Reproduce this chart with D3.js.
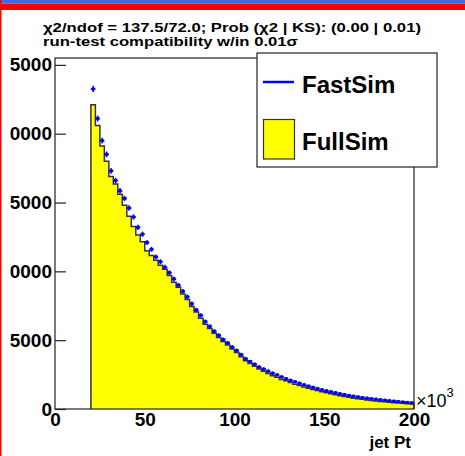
<!DOCTYPE html>
<html>
<head>
<meta charset="utf-8">
<script src="https://cdn.jsdelivr.net/npm/d3@7"></script>
<style>
  body { margin: 0; background: #ffffff; }
  svg { display: block; font-family: "Liberation Sans", Arial, sans-serif; }
</style>
</head>
<body>
<div class="hist_area"></div>
<script>
// bin edges of the jet Pt histograms (x10^3), 2.5 wide, 72 bins
var binLow = 20, binWidth = 2.5;

var fullSim = [22100, 20600, 19100, 18000, 16900, 16350, 15600, 14800, 14000, 13250,
    12650, 12150, 11500, 11150, 10800, 10450, 10150, 9700, 9200, 8850,
    8350, 7950, 7450, 7050, 6600, 6150, 5850, 5500, 5200, 4900,
    4650, 4350, 4100, 3800, 3500, 3300, 3100, 2900, 2750, 2580,
    2420, 2300, 2150, 2050, 1920, 1800, 1700, 1600, 1500, 1420,
    1340, 1260, 1180, 1110, 1030, 970, 900, 850, 790, 740,
    700, 660, 620, 580, 550, 520, 490, 460, 430, 410,
    380, 360];

var fastSim = [23250, 21100, 19500, 18500, 17300, 16600, 15850, 15300, 14600, 13950,
    13200, 12700, 12100, 11600, 11050, 10700, 10300, 9900, 9450, 9000,
    8550, 8150, 7650, 7200, 6800, 6350, 6000, 5650, 5350, 5050,
    4800, 4500, 4250, 3950, 3650, 3450, 3250, 3050, 2900, 2750,
    2600, 2480, 2330, 2200, 2080, 1980, 1870, 1760, 1660, 1570,
    1480, 1400, 1320, 1250, 1180, 1110, 1050, 990, 930, 880,
    830, 790, 750, 710, 670, 640, 600, 570, 540, 510,
    480, 450];

var yTicks = [0, 5000, 10000, 15000, 20000, 25000];
var xTicks = [0, 50, 100, 150, 200];
var titleLines = ["\u03c72/ndof = 137.5/72.0; Prob (\u03c72 | KS): (0.00 | 0.01)",
    "run-test compatibility w/in 0.01\u03c3"];
var legendNames = ["FastSim", "FullSim"];

var W = 465, H = 456;
var frame = { left: 55, right: 414, top: 58, bottom: 409 };

var svg = d3.select(".hist_area")
    .append("svg")
    .attr("width", W)
    .attr("height", H);

svg.append("rect").attr("width", W).attr("height", H).attr("fill", "#ffffff");

// canvas decorations (window border)
svg.append("rect").attr("x", 0).attr("y", 0).attr("width", W).attr("height", 3.5).attr("fill", "#4169e1");
svg.append("rect").attr("x", 0).attr("y", 3.5).attr("width", W).attr("height", 6.5).attr("fill", "#ff0000");
svg.append("rect").attr("x", 0).attr("y", 0).attr("width", 1.5).attr("height", H).attr("fill", "#ff0000");

// the pad cuts the leading digit of the y labels
svg.append("defs").append("clipPath").attr("id", "lblclip")
    .append("rect").attr("x", 10 - frame.left).attr("y", 0).attr("width", W).attr("height", H);

var x = d3.scaleLinear().domain([0, 200]).range([frame.left, frame.right]);
var y = d3.scaleLinear().domain([0, 25500]).range([frame.bottom, frame.top]);

// FullSim : filled step histogram
var fullPts = [[binLow, 0]];
fullSim.forEach(function (v, i) {
    fullPts.push([binLow + i * binWidth, v]);
    fullPts.push([binLow + (i + 1) * binWidth, v]);
});
fullPts.push([binLow + fullSim.length * binWidth, 0]);

var line = d3.line()
    .x(function (d) { return x(d[0]); })
    .y(function (d) { return y(d[1]); });

svg.append("path")
    .datum(fullPts)
    .attr("d", line)
    .attr("fill", "#ffff00")
    .attr("stroke", "#333333")
    .attr("stroke-width", 1.5);

// FastSim : points with error bars
var fast = svg.append("g").attr("class", "fast");
fastSim.forEach(function (v, i) {
    var x0 = x(binLow + i * binWidth), x1 = x(binLow + (i + 1) * binWidth);
    var xc = (x0 + x1) / 2;
    var err = Math.sqrt(v);
    fast.append("line")
        .attr("x1", x0).attr("x2", x1)
        .attr("y1", y(v)).attr("y2", y(v))
        .attr("stroke", "#0000ff").attr("stroke-width", 2);
    fast.append("line")
        .attr("x1", xc).attr("x2", xc)
        .attr("y1", y(v + err) - 1).attr("y2", y(v - err) + 1)
        .attr("stroke", "#0000ff").attr("stroke-width", 1.5);
    fast.append("rect")
        .attr("x", xc - 1.5).attr("y", y(v) - 1.5)
        .attr("width", 3).attr("height", 3)
        .attr("fill", "#0000ff");
});

// frame
svg.append("rect")
    .attr("x", frame.left).attr("y", frame.top)
    .attr("width", frame.right - frame.left).attr("height", frame.bottom - frame.top)
    .attr("fill", "none").attr("stroke", "#222222").attr("stroke-width", 1.2);

// y axis
var y_axis = svg.append("g")
    .attr("class", "y-axis")
    .attr("transform", "translate(" + frame.left + ",0)")
    .attr("clip-path", "url(#lblclip)")
    .call(d3.axisLeft(y).tickValues(yTicks).tickSize(-11).tickPadding(3).tickFormat(d3.format("d")));

y_axis.select(".domain").remove();
y_axis.selectAll("line").style("stroke", "#222222").style("stroke-width", 1.2);
y_axis.selectAll("text")
    .style("fill", "#000000")
    .style("font-size", "19px")
    .style("font-weight", "bold")
    .style("font-family", "Liberation Sans, Arial, sans-serif");

// x axis
var x_axis = svg.append("g")
    .attr("class", "x-axis")
    .attr("transform", "translate(0," + frame.bottom + ")")
    .call(d3.axisBottom(x).tickValues(xTicks).tickSize(0).tickPadding(4));

x_axis.select(".domain").remove();
x_axis.selectAll("text")
    .style("fill", "#000000")
    .style("font-size", "19px")
    .style("font-weight", "bold")
    .style("font-family", "Liberation Sans, Arial, sans-serif");

// x10^3 exponent and axis title
var expo = svg.append("text")
    .attr("x", 416).attr("y", 407)
    .style("font-size", "18px")
    .text("\u00d710");
expo.append("tspan").attr("dy", -10).style("font-size", "13px").text("3");

svg.append("text")
    .attr("x", 411).attr("y", 448)
    .attr("text-anchor", "end")
    .style("font-size", "17px")
    .style("font-weight", "bold")
    .text("jet Pt");

// title lines (stretched like the canvas)
var titleWidths = [378, 255];
svg.selectAll(".title")
    .data(titleLines)
    .enter()
    .append("text")
    .attr("class", "title")
    .attr("x", 43)
    .attr("y", function (d, i) { return 32 + i * 14; })
    .attr("textLength", function (d, i) { return titleWidths[i]; })
    .attr("lengthAdjust", "spacingAndGlyphs")
    .style("font-size", "13.5px")
    .style("font-weight", "bold")
    .text(function (d) { return d; });

// legend
var lg = svg.append("g").attr("class", "legend");
lg.append("rect")
    .attr("x", 257).attr("y", 53).attr("width", 180).attr("height", 114)
    .attr("fill", "#ffffff").attr("stroke", "#222222").attr("stroke-width", 1.2);
lg.append("line")
    .attr("x1", 263).attr("x2", 294).attr("y1", 82).attr("y2", 82)
    .attr("stroke", "#0000ff").attr("stroke-width", 2.5);
lg.append("rect")
    .attr("x", 263.5).attr("y", 119.5).attr("width", 31).attr("height", 39.5)
    .attr("fill", "#ffff00").attr("stroke", "#333333").attr("stroke-width", 1.2);
lg.selectAll(".lgtext")
    .data(legendNames)
    .enter()
    .append("text")
    .attr("class", "lgtext")
    .attr("x", 302)
    .attr("y", function (d, i) { return 93 + i * 57; })
    .style("font-size", "24px")
    .style("font-weight", "bold")
    .text(function (d) { return d; });
</script>
</body>
</html>
